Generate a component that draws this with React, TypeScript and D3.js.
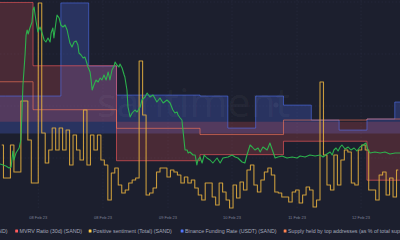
import React from 'react';
import * as d3 from 'd3';

const W = 400;
const H = 240;
const START = '2023-02-07T14:30:00Z';
const END = '2023-02-12T09:30:00Z';

// daily metrics
const dailyDates = ['2023-02-07T00:00:00Z', '2023-02-08T00:00:00Z', '2023-02-09T00:00:00Z', '2023-02-10T00:00:00Z', '2023-02-11T00:00:00Z', '2023-02-12T00:00:00Z'];
const mvrvValues = [9.8, 4.6, -3.2, -2.7, -1.6, -4.8];
const supplyValues = [60.21, 59.94, 59.76, 59.7, 59.84, 59.85];

// Binance funding rate, every 8 hours
const fundingStart = '2023-02-07T08:00:00Z';
const fundingValues = [0.00281, 0.00281, 0.00281, 0.00978, 0.00506, 0.00288, 0.00288, 0.00288, 0.00281, 0.00041, 0.00281, 0.00213, 0.00101, 0.00026, 0.00109, 0.00236];

// Positive sentiment, hourly
const sentimentStart = '2023-02-07T15:00:00Z';
const sentimentValues = [
  33.5, 17, 17, 33.5, 20, 20, 55.5, 55.5, 36, 14.5,
  14.5, 104.5, 39.5, 24.5, 31, 42, 31, 42, 31, 41,
  23.5, 38.5, 31, 26, 51, 23.5, 38.5, 31, 38.5, 26,
  23.5, 6, 19.5, 22, 13.5, 9.5, 11, 14.5, 16, 17,
  75.5, 48.5, 8.5, 9.5, 12, 20, 22, 22, 17.5, 21,
  20, 18.5, 14.5, 17.5, 14.5, 16, 12, 8.5, 6, 14.5,
  14.5, 7.5, 3.5, 14.5, 10, 6, 2, 13.5, 7, 15,
  11, 21, 23.5, 13.5, 10, 16, 20, 22, 18.5, 10,
  9.5, 7.5, 7.5, 5, 10, 11, 4.5, 8.5, 12.5, 11,
  2.5, 6, 65, 28.5, 13.5, 11, 28.5, 13.5, 26, 31,
  30, 14.5, 13.5, 31, 33.5, 31, 11, 11, 6, 18.5,
  20, 8.5, 17, 7.5, 21,
];

// Price (hours after START, USD)
const priceData: [number, number][] = [
  [0, 0.716], [0.9, 0.715], [1.7, 0.714], [2.6, 0.712], [3.2, 0.713], [3.7, 0.729], [4.0, 0.72], [4.6, 0.727], [5.5, 0.732], [6.0, 0.74],
  [6.3, 0.765], [6.6, 0.795], [7.2, 0.825], [7.5, 0.845], [7.8, 0.85], [8.1, 0.846], [8.6, 0.852], [9.2, 0.858], [9.5, 0.87], [9.8, 0.873],
  [10.1, 0.865], [10.4, 0.858], [10.9, 0.848], [11.5, 0.853], [12.1, 0.847], [12.7, 0.84], [13.2, 0.838], [13.8, 0.842], [14.4, 0.838], [14.7, 0.847],
  [15.2, 0.852], [15.5, 0.842], [16.1, 0.858], [16.4, 0.865], [17.0, 0.862], [17.5, 0.855], [18.1, 0.853], [18.7, 0.855], [19.3, 0.85], [19.6, 0.845],
  [20.1, 0.837], [20.7, 0.833], [21.3, 0.838], [21.9, 0.839], [22.4, 0.835], [22.7, 0.827], [23.3, 0.825], [23.9, 0.822], [24.4, 0.823], [24.7, 0.82],
  [25.3, 0.813], [25.9, 0.808], [26.2, 0.8], [26.5, 0.79], [27.0, 0.795], [27.6, 0.8], [28.2, 0.798], [28.8, 0.802], [29.3, 0.8], [29.9, 0.805],
  [30.5, 0.8], [31.1, 0.808], [31.6, 0.8], [32.2, 0.81], [32.8, 0.814], [33.1, 0.818], [33.6, 0.815], [34.2, 0.813], [34.5, 0.816], [35.1, 0.812],
  [35.7, 0.805], [35.9, 0.803], [36.5, 0.79], [36.8, 0.773], [37.4, 0.763], [38.0, 0.767], [38.8, 0.77], [39.4, 0.768], [40.3, 0.773], [40.8, 0.78],
  [41.7, 0.783], [42.3, 0.787], [43.1, 0.783], [44.0, 0.785], [45.1, 0.778], [46.0, 0.782], [46.9, 0.777], [48.0, 0.78], [48.9, 0.777], [49.7, 0.77],
  [50.3, 0.767], [50.9, 0.768], [51.2, 0.765], [51.8, 0.762], [52.3, 0.76], [52.6, 0.75], [53.2, 0.73], [53.8, 0.73], [54.1, 0.727], [54.6, 0.728],
  [55.5, 0.725], [56.1, 0.725], [56.6, 0.715], [56.9, 0.72], [57.5, 0.723], [58.1, 0.717], [58.7, 0.725], [59.5, 0.722], [60.4, 0.72], [61.2, 0.717],
  [62.4, 0.722], [63.3, 0.717], [64.1, 0.722], [65.6, 0.723], [66.7, 0.725], [67.6, 0.723], [68.4, 0.722], [69.6, 0.718], [70.4, 0.717], [71.0, 0.725],
  [71.9, 0.735], [72.5, 0.733], [73.3, 0.73], [74.2, 0.732], [74.8, 0.728], [75.6, 0.733], [76.8, 0.73], [77.6, 0.737], [78.5, 0.728], [79.1, 0.722],
  [79.9, 0.723], [81.1, 0.724], [82.5, 0.722], [84.0, 0.723], [85.4, 0.722], [86.3, 0.724], [87.7, 0.723], [89.1, 0.725], [90.6, 0.724], [92.0, 0.725],
  [92.9, 0.723], [94.0, 0.726], [94.9, 0.728], [95.5, 0.725], [96.0, 0.73], [96.6, 0.732], [97.2, 0.729], [97.8, 0.733], [98.3, 0.735], [99.2, 0.731],
  [100.1, 0.733], [100.9, 0.73], [101.8, 0.732], [102.6, 0.729], [103.5, 0.733], [104.4, 0.735], [105.2, 0.737], [105.8, 0.73], [106.4, 0.727], [107.8, 0.728],
  [109.3, 0.727], [110.7, 0.728], [112.1, 0.726], [113.6, 0.727], [115.0, 0.727],
];

const tickTimes = ['2023-02-08T01:30:00Z', '2023-02-08T20:06:00Z', '2023-02-09T14:48:00Z', '2023-02-10T09:12:00Z', '2023-02-11T03:54:00Z', '2023-02-11T22:18:00Z'];
const tickLabels = ['08 Feb 23', '08 Feb 23', '09 Feb 23', '10 Feb 23', '11 Feb 23', '12 Feb 23'];

const legendNames = ['Price (SAND)', 'MVRV Ratio (30d) (SAND)', 'Positive sentiment (Total) (SAND)', 'Binance Funding Rate (USDT) (SAND)', 'Supply held by top addresses (as % of total supply) (SAND)'];
const legendColors = ['#26c953', '#ff5b5b', '#ffcb47', '#5275ff', '#ff8450'];

const HOUR = 3600 * 1000;

type Pt = { t: Date; v: number };

export default function App() {
  const t0 = new Date(START);
  const t1 = new Date(END);
  const x = d3.scaleUtc().domain([t0, t1]).range([0, W]);
  const plotBottom = 207;
  const yMvrv = d3.scaleLinear().domain([-7, 10]).range([plotBottom, 0]);
  const yFund = d3.scaleLinear().domain([-0.0055, 0.01]).range([plotBottom, 0]);
  const ySupply = d3.scaleLinear().domain([59, 61]).range([plotBottom, 0]);
  const yPrice = d3.scaleLinear().domain([0.673, 0.88]).range([plotBottom, 0]);
  const ySent = d3.scaleLinear().domain([0, 106]).range([212, 0]);

  const extend = (arr: Pt[]) => [...arr, { t: t1, v: arr[arr.length - 1].v }];

  const mvrv: Pt[] = extend(dailyDates.map((d, i) => ({ t: new Date(d), v: mvrvValues[i] })));
  const supply: Pt[] = extend(dailyDates.map((d, i) => ({ t: new Date(d), v: supplyValues[i] })));
  const fs = new Date(fundingStart).getTime();
  const funding: Pt[] = extend(fundingValues.map((v, i) => ({ t: new Date(fs + i * 8 * HOUR), v })));
  const ss = new Date(sentimentStart).getTime();
  const sentiment: Pt[] = sentimentValues.map((v, i) => ({ t: new Date(ss + i * HOUR), v }));
  const price: Pt[] = priceData.map(([h, v]) => ({ t: new Date(t0.getTime() + h * HOUR), v }));

  const areaOf = (y: d3.ScaleLinear<number, number>) =>
    d3.area<Pt>().curve(d3.curveStepAfter).x(d => x(d.t)).y0(y(0)).y1(d => y(d.v));
  const lineOf = (y: d3.ScaleLinear<number, number>, curve: d3.CurveFactory) =>
    d3.line<Pt>().curve(curve).x(d => x(d.t)).y(d => y(d.v));

  const font = "'Liberation Sans', Arial, sans-serif";

  const legendX = [7.5, 19.5, 93, 185, 288];

  return (
    <svg width={W} height={H} style={{ position: 'fixed', left: 0, top: 0, background: '#1c1f2e' }}>
      <defs>
        <clipPath id="plot">
          <rect x={0} y={0} width={W} height={212} />
        </clipPath>
      </defs>
      <rect x={0} y={0} width={W} height={H} fill="#1c1f2e" />
      {/* grid */}
      <g stroke="#2a2e42" strokeWidth={0.6} strokeDasharray="1.5,2">
        {tickTimes.map((d, i) => (
          <line key={'gv' + i} x1={x(new Date(d))} x2={x(new Date(d))} y1={0} y2={210} />
        ))}
        {[2, 54, 106, 158].map((gy, i) => (
          <line key={'gh' + i} x1={0} x2={W} y1={gy} y2={gy} />
        ))}
      </g>
      <g clipPath="url(#plot)">
        <path d={areaOf(yFund)(funding) || ''} fill="#5275ff" fillOpacity={0.24} />
        <path d={areaOf(yMvrv)(mvrv) || ''} fill="#ff5b5b" fillOpacity={0.2} />
        <path d={lineOf(yFund, d3.curveStepAfter)(funding) || ''} fill="none" stroke="#5275ff" strokeOpacity={0.55} strokeWidth={1} />
        <path d={lineOf(yMvrv, d3.curveStepAfter)(mvrv) || ''} fill="none" stroke="#ff5b5b" strokeOpacity={0.6} strokeWidth={1} />
        <path d={lineOf(ySupply, d3.curveStepAfter)(supply) || ''} fill="none" stroke="#ff7a5a" strokeOpacity={0.6} strokeWidth={1} />
        <text x={97} y={117} fontFamily="'Open Sans', 'DejaVu Sans', sans-serif" fontSize={41} fill="#ffffff" fillOpacity={0.05}>santiment</text>
        <circle cx={276} cy={105} r={2.5} fill="#ffffff" fillOpacity={0.05} />
        <path d={lineOf(ySent, d3.curveStep)(sentiment) || ''} fill="none" stroke="#e8b13e" strokeOpacity={0.85} strokeWidth={1.1} strokeLinejoin="round" />
        <path d={lineOf(yPrice, d3.curveLinear)(price) || ''} fill="none" stroke="#2cb84e" strokeOpacity={0.95} strokeWidth={1.1} strokeLinejoin="round" />
      </g>
      {/* x axis labels */}
      <g fontFamily={font} fontSize={4} fill="#7d8296" textAnchor="middle">
        {tickTimes.map((d, i) => (
          <text key={'t' + i} x={x(new Date(d))} y={218.5}>{tickLabels[i]}</text>
        ))}
      </g>
      {/* legend */}
      <g fontFamily={font} fontSize={5.3} fill="#a3a8ba">
        {legendNames.map((n, i) => (
          <g key={'l' + i}>
            {i > 0 && <rect x={legendX[i] - 4.3} y={229.6} width={2.8} height={2.8} rx={0.5} fill={legendColors[i]} />}
            <text x={legendX[i]} y={233} textAnchor={i === 0 ? 'end' : 'start'}>{n}</text>
          </g>
        ))}
      </g>
    </svg>
  );
}
